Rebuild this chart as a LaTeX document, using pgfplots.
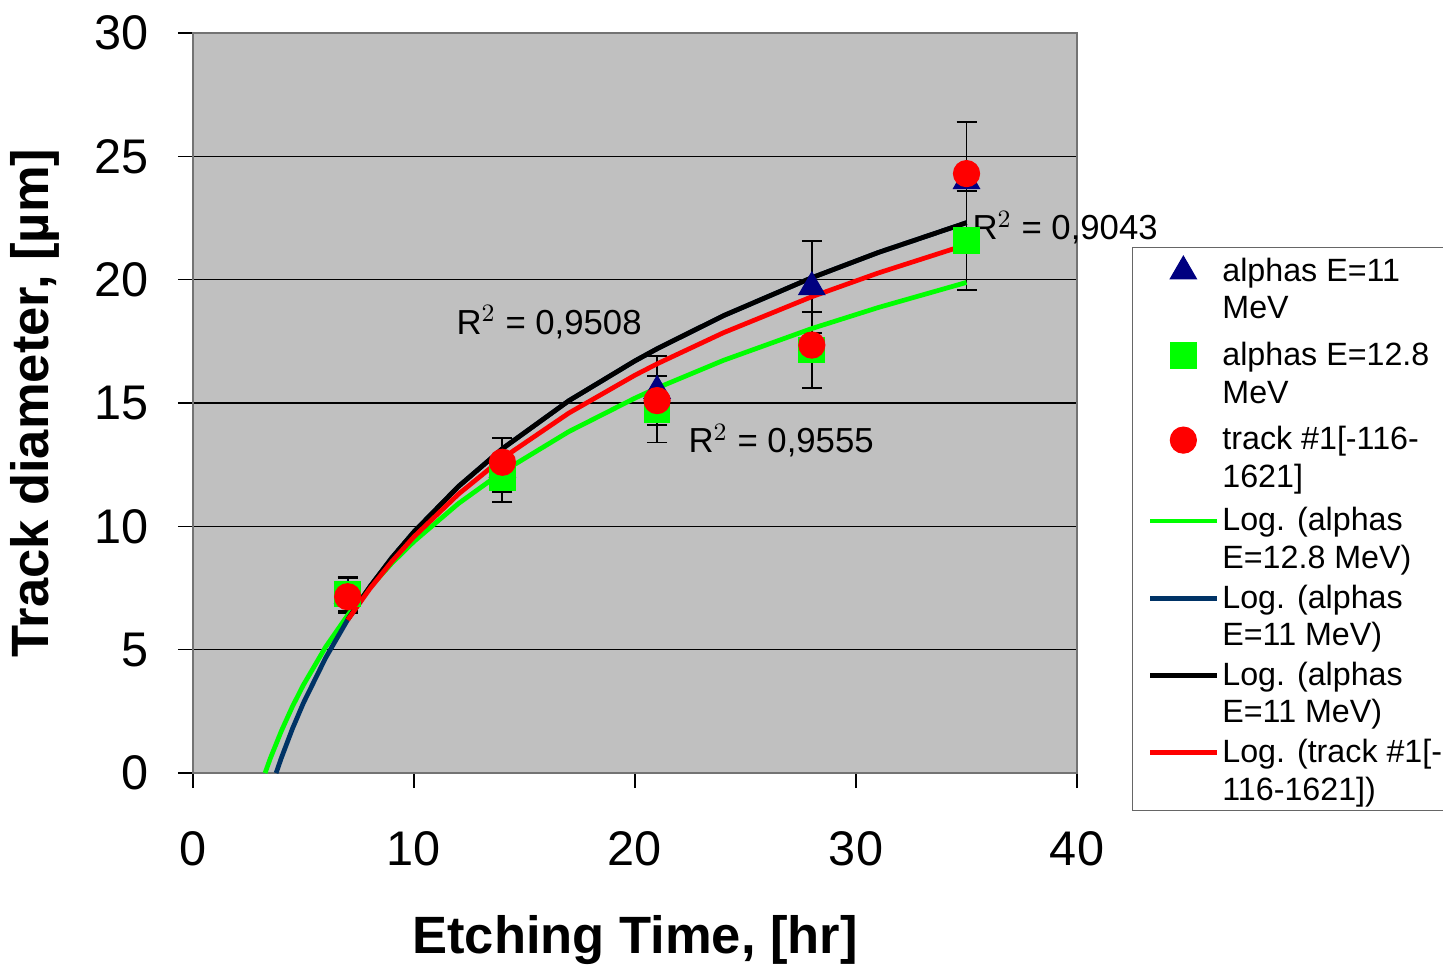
\documentclass[border=0pt]{standalone}
\usepackage{fontspec}
\setmainfont{Liberation Sans}
\usepackage{pgfplots}
\pgfplotsset{compat=1.18}
\definecolor{plotbg}{RGB}{192,192,192}
\definecolor{navy}{RGB}{0,0,128}
\definecolor{lgreen}{RGB}{0,255,0}
\definecolor{fitblue}{RGB}{0,51,102}
\pgfplotsset{
  markleg/.style={legend image code/.code={\path (0pt,-14pt) (24pt,14pt);
      \draw[##1] plot coordinates {(12pt,6.85pt)};}},
  lineleg/.style={legend image code/.code={\path (0pt,-8pt) (24pt,8pt);
      \draw[##1] (0pt,6.85pt) -- (24pt,6.85pt);}},
}
\begin{document}
\begin{tikzpicture}
\begin{axis}[
  scale only axis, width=318.2pt, height=266.4pt,
  xmin=0, xmax=40, ymin=0, ymax=30,
  xtick={0,10,...,40}, ytick={0,5,...,30},
  tick pos=left, tick align=outside, major tick length=5.4pt,
  tick style={black, line width=0.5pt},
  ymajorgrids, grid style={black, line width=0.5pt},
  axis background/.style={fill=plotbg},
  axis line style={draw=black!55, line width=0.8pt},
  clip=false,
  /pgf/number format/assume math mode=true,
  ticklabel style={font=\fontsize{17.5}{20}\selectfont},
  yticklabel style={xshift=-7pt},
  xticklabel style={yshift=-12pt},
  xlabel={Etching Time, [hr]},
  ylabel={Track diameter, [µm]},
  label style={font=\fontsize{18.9}{22}\selectfont\bfseries},
  xlabel style={at={(axis description cs:0.5,-0.226)}, anchor=center},
  ylabel style={at={(axis description cs:-0.179,0.5)}, anchor=center},
  legend style={at={(rel axis cs:1.062,0.711)}, anchor=north west,
    draw=black!60, fill=white, inner xsep=5.5pt, inner ysep=1.2pt,
    font=\fontsize{11.6}{13.5}\selectfont,
    cells={anchor=west, align=left}, row sep=2pt,
    nodes={inner sep=1.2pt}},
]
% alphas E=11 MeV
\addplot[only marks, mark=triangle*, mark size=5.4pt,
  mark options={fill=navy, draw=navy}, markleg,
  error bars/.cd, y dir=both, y explicit,
  error bar style={black, line width=0.7pt},
  error mark options={rotate=90, mark size=3.6pt, black, line width=0.7pt}]
  coordinates {(7,7.2) +- (0,0.7) (14,12.3) +- (0,1.3) (21,15.5) +- (0,1.4)
    (28,19.7) +- (0,1.85) (35,24.0) +- (0,2.4)};
\addlegendentry{alphas E=11\\MeV}
% alphas E=12.8 MeV
\addplot[only marks, mark=square*, mark size=4.6pt,
  mark options={fill=lgreen, draw=lgreen}, markleg,
  error bars/.cd, y dir=both, y explicit,
  error bar style={black, line width=0.7pt},
  error mark options={rotate=90, mark size=3.6pt, black, line width=0.7pt}]
  coordinates {(7,7.26) +- (0,0.7) (14,11.96) +- (0,0.55) (21,14.75) +- (0,1.35)
    (28,17.15) +- (0,1.55) (35,21.6) +- (0,2.0)};
\addlegendentry{alphas E=12.8\\MeV}
% track #1
\addplot[only marks, mark=*, mark size=4.7pt,
  mark options={fill=red, draw=red}, markleg]
  coordinates {(7,7.15) (14,12.6) (21,15.1) (28,17.35) (35,24.3)};
\addlegendentry{track \#1[-116-\\1621]}
% log fits
\addplot[lgreen, line width=1.7pt, lineleg] coordinates {
  (3.26,0) (3.5,0.60) (4,1.71) (4.5,2.70) (5,3.58) (6,5.11) (7,6.40) (8,7.52)
  (9,8.51) (10,9.39) (12,10.92) (14,12.21) (17,13.84) (20,15.20) (21,15.61)
  (24,16.73) (28,18.02) (31,18.87) (35,19.89)};
\addlegendentry{Log. (alphas\\E=12.8 MeV)}
\addplot[fitblue, line width=1.7pt, lineleg] coordinates {
  (3.76,0) (4,0.62) (4.5,1.80) (5,2.85) (6,4.67) (7,6.22) (8,7.55) (9,8.73)
  (10,9.78) (12,11.61) (14,13.15) (17,15.09) (20,16.71) (21,17.20) (24,18.54)
  (28,20.08) (31,21.10) (35,22.31)};
\addlegendentry{Log. (alphas\\E=11 MeV)}
\addplot[black, line width=1.7pt, lineleg] coordinates {
  (7,6.22) (8,7.55) (9,8.73) (10,9.78) (12,11.61) (14,13.15) (17,15.09)
  (20,16.71) (21,17.20) (24,18.54) (28,20.08) (31,21.10) (35,22.31)};
\addlegendentry{Log. (alphas\\E=11 MeV)}
\addplot[red, line width=1.7pt, lineleg] coordinates {
  (7,6.21) (8,7.47) (9,8.58) (10,9.58) (12,11.30) (14,12.76) (17,14.59)
  (20,16.13) (21,16.59) (24,17.85) (28,19.31) (31,20.27) (35,21.42)};
\addlegendentry{Log. (track \#1[-\\116-1621])}
% R^2 labels
\node[anchor=west, inner sep=0pt, font=\fontsize{12.5}{14}\selectfont] at (axis cs:11.9,18.28) {R$^2$ = 0,9508};
\node[anchor=west, inner sep=0pt, font=\fontsize{12.5}{14}\selectfont] at (axis cs:22.4,13.46) {R$^2$ = 0,9555};
\node[anchor=west, inner sep=0pt, font=\fontsize{12.5}{14}\selectfont] at (axis cs:35.25,22.1) {R$^2$ = 0,9043};
\coordinate (bl) at (rel axis cs:-0.2183,-0.2608);
\coordinate (tr) at (rel axis cs:1.414,1.0446);
\end{axis}
\pgfresetboundingbox
\path (bl) rectangle (tr);
\end{tikzpicture}
\end{document}
